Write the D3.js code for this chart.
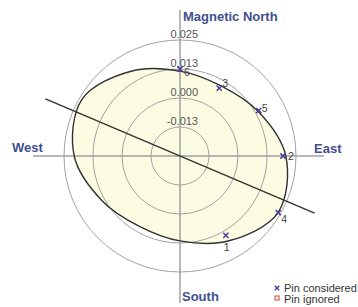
<!DOCTYPE html>
<html>
<head>
<meta charset="utf-8">
<script src="https://cdn.jsdelivr.net/npm/d3@7"></script>
<style>
  body { margin: 0; background: #fff; }
  svg { display: block; font-family: "Liberation Sans", Arial, sans-serif; }
</style>
</head>
<body>
<svg id="chart" width="358" height="307"></svg>
<script>
// ring values (radial deviation) and their labels
const ringValues = [-0.0125, 0, 0.0125, 0.025];
const ringLabels = ["-0.013", "0.000", "0.013", "0.025"];

// fitted ellipse, read every 30 degrees (bearing clockwise from north)
const fitBearings = [0, 30, 60, 90, 120, 150, 180, 210, 240, 270, 300, 330];
const fitValues   = [0.0116, 0.0100, 0.0137, 0.0206, 0.0238, 0.0172,
                     0.0116, 0.0100, 0.0137, 0.0206, 0.0238, 0.0172];

// pins
const pinBearings = [0, 30, 60, 90, 120, 150];
const pinValues   = [0.0125, 0.0088, 0.0142, 0.0194, 0.0239, 0.0145];
const pinLabels   = ["6", "3", "5", "2", "4", "1"];

// major axis of the fit
const axisBearing = 113;
const axisReach = 0.038;

// ——— layout ———
const svg = d3.select("#chart");
const cx = 180, cy = 156;
const rOuter = 116;
const labelOffsets = [[4, 7], [3, -1], [3, 1], [5, 4], [3, 10], [-2, 16]];

const r = d3.scaleLinear().domain([-0.025, 0.025]).range([0, rOuter]);

const polar = (deg, v) => {
  const a = deg * Math.PI / 180;
  return [cx + r(v) * Math.sin(a), cy - r(v) * Math.cos(a)];
};

const g = svg.append("g");

// fitted curve fill
const radial = d3.lineRadial()
  .angle(d => d[0] * Math.PI / 180)
  .radius(d => r(d[1]))
  .curve(d3.curveCatmullRomClosed);
const fitData = fitBearings.map((b, i) => [b, fitValues[i]]);

g.append("path")
  .attr("transform", `translate(${cx},${cy})`)
  .attr("d", radial(fitData))
  .attr("fill", "#fcfce2")
  .attr("stroke", "none");

// rings
g.selectAll("circle.ring")
  .data(ringValues)
  .join("circle")
    .attr("class", "ring")
    .attr("cx", cx).attr("cy", cy)
    .attr("r", d => r(d))
    .attr("fill", "none")
    .attr("stroke", "#a3a3a3")
    .attr("stroke-width", 1);

// cross hairs
g.append("line")
  .attr("x1", cx).attr("x2", cx).attr("y1", 10).attr("y2", 303)
  .attr("stroke", "#a0a0a0").attr("stroke-width", 1.5);
g.append("line")
  .attr("x1", 33).attr("x2", 324).attr("y1", cy).attr("y2", cy)
  .attr("stroke", "#a0a0a0").attr("stroke-width", 1.5);

// fitted curve outline
g.append("path")
  .attr("transform", `translate(${cx},${cy})`)
  .attr("d", radial(fitData))
  .attr("fill", "none")
  .attr("stroke", "#333")
  .attr("stroke-width", 1.4);

// major axis line
const p1 = polar(axisBearing, axisReach), p2 = polar(axisBearing + 180, axisReach);
g.append("line")
  .attr("x1", p1[0]).attr("y1", p1[1]).attr("x2", p2[0]).attr("y2", p2[1])
  .attr("stroke", "#333").attr("stroke-width", 1.4);

// ring labels
g.selectAll("text.ring")
  .data(ringValues)
  .join("text")
    .attr("class", "ring")
    .attr("x", cx + 18)
    .attr("y", d => cy - r(d) - 2)
    .attr("text-anchor", "end")
    .attr("font-size", 11)
    .attr("fill", "#555")
    .text((d, i) => ringLabels[i]);

// pins
const pins = pinBearings.map((b, i) => {
  const [x, y] = polar(b, pinValues[i]);
  return { x, y, label: pinLabels[i], off: labelOffsets[i] };
});
const s = 2.6;
const pg = g.selectAll("g.pin").data(pins).join("g").attr("class", "pin");
pg.append("path")
  .attr("d", d => `M${d.x - s},${d.y - s}L${d.x + s},${d.y + s}M${d.x - s},${d.y + s}L${d.x + s},${d.y - s}`)
  .attr("stroke", "#4a3d9c").attr("stroke-width", 1.5);
pg.append("text")
  .attr("x", d => d.x + d.off[0])
  .attr("y", d => d.y + d.off[1])
  .attr("font-size", 10.5)
  .attr("fill", "#444")
  .text(d => d.label);

// compass labels
const compass = svg.append("g")
  .attr("font-weight", "bold").attr("font-size", 13).attr("fill", "#3f4f8f");
compass.append("text").attr("x", 183).attr("y", 21).text("Magnetic North");
compass.append("text").attr("x", 12).attr("y", 152).text("West");
compass.append("text").attr("x", 314).attr("y", 153).text("East");
compass.append("text").attr("x", 182).attr("y", 301).text("South");

// legend
const leg = svg.append("g").attr("font-size", 11).attr("fill", "#333");
leg.append("path")
  .attr("d", `M${277 - 2.2},${288 - 2.2}L${277 + 2.2},${288 + 2.2}M${277 - 2.2},${288 + 2.2}L${277 + 2.2},${288 - 2.2}`)
  .attr("stroke", "#4a3d9c").attr("stroke-width", 1.4);
leg.append("text").attr("x", 284).attr("y", 292).text("Pin considered");
leg.append("rect")
  .attr("x", 275).attr("y", 296).attr("width", 4).attr("height", 4)
  .attr("fill", "none").attr("stroke", "#c8453a").attr("stroke-width", 1);
leg.append("text").attr("x", 284).attr("y", 303).text("Pin ignored");
</script>
</body>
</html>
